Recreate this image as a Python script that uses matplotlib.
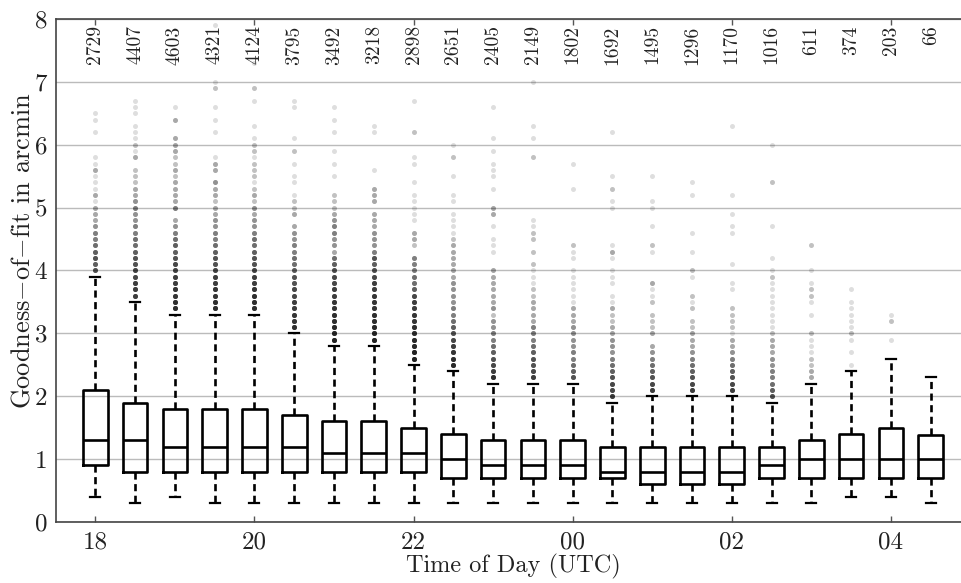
import numpy as np
import matplotlib.pyplot as plt

plt.rcParams['font.family'] = 'cmr10'
plt.rcParams['mathtext.fontset'] = 'cm'
plt.rcParams['axes.unicode_minus'] = False

# one box per half hour, 18:00 .. 04:30 UTC
hour_labels = ['18', '20', '22', '00', '02', '04']
n_obs = [2729, 4407, 4603, 4321, 4124, 3795, 3492, 3218, 2898, 2651, 2405,
         2149, 1802, 1692, 1495, 1296, 1170, 1016, 611, 374, 203, 66]

q1 = [0.9, 0.8, 0.8, 0.8, 0.8, 0.8, 0.8, 0.8, 0.8, 0.7, 0.7,
      0.7, 0.7, 0.7, 0.6, 0.6, 0.6, 0.7, 0.7, 0.7, 0.7, 0.7]
med = [1.3, 1.3, 1.2, 1.2, 1.2, 1.2, 1.1, 1.1, 1.1, 1.0, 0.9,
       0.9, 0.9, 0.8, 0.8, 0.8, 0.8, 0.9, 1.0, 1.0, 1.0, 1.0]
q3 = [2.1, 1.9, 1.8, 1.8, 1.8, 1.7, 1.6, 1.6, 1.5, 1.4, 1.3,
      1.3, 1.3, 1.2, 1.2, 1.2, 1.2, 1.2, 1.3, 1.4, 1.5, 1.38]
whislo = [0.4, 0.3, 0.4, 0.3, 0.3, 0.3, 0.3, 0.3, 0.3, 0.3, 0.3,
          0.3, 0.3, 0.3, 0.3, 0.3, 0.3, 0.3, 0.3, 0.4, 0.4, 0.3]
whishi = [3.9, 3.5, 3.3, 3.3, 3.3, 3.0, 2.8, 2.8, 2.5, 2.4, 2.2,
          2.2, 2.2, 1.9, 2.0, 2.0, 2.0, 1.9, 2.2, 2.4, 2.6, 2.3]

# outliers: number of fits per 0.1 arcmin step, starting one step above the upper whisker
fly_counts = [
    [8, 7, 8, 7, 6, 5, 5, 4, 3, 3, 3, 1, 3, 1, 1, 1, 3, 1, 1],
    [10, 10, 10, 9, 9, 8, 8, 7, 6, 6, 5, 5, 4, 4, 5, 4, 3, 3, 2, 2, 2, 0, 3, 1, 2, 1, 1, 1],
    [12, 12, 11, 11, 10, 10, 9, 9, 8, 7, 7, 6, 5, 4, 3, 0, 5, 3, 3, 3, 3, 2, 3, 2, 2, 3, 3, 3],
    [12, 12, 11, 11, 10, 10, 9, 8, 8, 7, 6, 5, 5, 4, 4, 3, 3, 2, 3, 3, 4, 0, 3, 3, 1],
    [12, 12, 12, 11, 10, 10, 9, 8, 8, 7, 6, 6, 5, 4, 4, 3, 4, 2, 3, 2, 1, 2, 2, 2, 1, 2, 2, 1],
    [12, 11, 11, 10, 10, 9, 9, 8, 8, 7, 6, 6, 5, 5, 4, 4, 3, 0, 3, 2, 2, 1],
    [14, 13, 13, 12, 12, 11, 11, 10, 10, 9, 9, 8, 7, 6, 3, 4, 4, 5, 5, 4, 3, 2, 2, 2],
    [14, 13, 13, 12, 12, 11, 11, 11, 10, 10, 9, 8, 7, 8, 5, 4, 4, 4, 3, 3, 3, 0, 3, 3, 3],
    [14, 14, 13, 13, 12, 12, 11, 11, 10, 10, 9, 7, 6, 6, 5, 5, 5, 0, 2, 3, 3, 0, 1, 1, 1, 1, 1],
    [13, 12, 11, 10, 9, 8, 7, 6, 5, 5, 4, 4, 4, 4, 3, 3, 3, 3, 3, 3, 2, 1, 1, 1, 1, 0, 1, 1],
    [12, 10, 9, 8, 7, 6, 5, 5, 4, 4, 2, 4, 3, 3, 3, 3, 3, 3, 0, 0, 1, 1, 1, 0, 1, 0, 3, 3],
    [10, 9, 8, 8, 7, 6, 5, 5, 5, 3, 3, 3, 3, 2, 2, 1, 1, 1, 2, 0, 2, 0, 2, 2, 1, 1],
    [8, 7, 6, 5, 5, 4, 4, 4, 4, 3, 3, 3, 1, 1, 1, 1, 1, 1, 0, 1, 1, 2],
    [10, 9, 9, 8, 7, 6, 5, 4, 4, 4, 3, 3, 2, 2, 3, 1, 1, 0, 1, 1, 1, 0, 1, 3, 1],
    [10, 9, 8, 7, 6, 5, 4, 3, 0, 3, 2, 2, 2, 0, 2, 1, 1, 3],
    [10, 9, 8, 7, 6, 5, 4, 3, 3, 3, 2, 2, 0, 2, 1, 2],
    [10, 9, 8, 7, 6, 5, 4, 3, 3, 1, 2, 2, 2, 2],
    [8, 7, 6, 5, 5, 4, 4, 3, 3, 3, 2, 1, 1, 1, 1, 1, 1, 1, 1, 2, 1],
    [3, 3, 2, 2, 1, 1, 1, 2, 0, 0, 1, 0, 1, 2, 2, 1],
    [1, 0, 1, 0, 1, 2, 1, 1, 1, 1, 1, 0, 1],
    [],
    [],
]
# isolated outliers further up
fly_far = [
    [6.2, 6.4, 6.5],
    [6.5, 6.6, 6.7],
    [6.4, 6.4, 6.4, 6.6],
    [6.2, 6.4, 6.6, 6.9, 6.9, 7.0, 7.9],
    [6.3, 6.7, 6.9, 6.9, 7.3],
    [5.4, 5.5, 5.7, 5.9, 5.9, 6.1, 6.6, 6.7],
    [5.5, 5.7, 5.9, 6.2, 6.4, 6.6],
    [5.6, 6.2, 6.3],
    [5.4, 5.7, 5.8, 6.2, 6.2, 6.7],
    [5.5, 5.8, 5.8, 6.0],
    [5.3, 5.5, 5.6, 5.7, 5.9, 6.1, 6.6],
    [5.8, 5.8, 6.1, 6.3, 7.0],
    [5.3, 5.7],
    [5.0, 5.1, 5.3, 5.3, 5.5, 6.2],
    [4.3, 4.4, 4.4, 4.7, 5.0, 5.1, 5.5],
    [3.9, 4.0, 4.0, 4.3, 4.6, 5.2, 5.4],
    [3.7, 3.8, 4.1, 4.6, 4.7, 4.9, 5.2, 6.3],
    [4.2, 4.7, 5.4, 5.4, 6.0],
    [4.0, 4.4, 4.4],
    [],
    [2.9, 3.2, 3.2, 3.3],
    [],
]

positions = np.arange(1, len(n_obs) + 1)

stats = []
for i in range(len(n_obs)):
    c = fly_counts[i]
    levels = whishi[i] + 0.1 * np.arange(1, len(c) + 1)
    fl = np.concatenate([np.repeat(levels, c), np.array(fly_far[i], dtype=float)])
    stats.append(dict(med=med[i], q1=q1[i], q3=q3[i],
                      whislo=whislo[i], whishi=whishi[i], fliers=fl))

fig = plt.figure(figsize=(9.62, 5.83), dpi=100)
ax = fig.add_axes([55.5 / 962, 61 / 583, 915 / 962, 503 / 583])

ax.bxp(stats, positions=positions, widths=0.62, capwidths=0.25,
       boxprops=dict(color='k', linewidth=1.9),
       medianprops=dict(color='k', linewidth=1.9),
       whiskerprops=dict(color='k', linewidth=1.9, linestyle=(0, (2.7, 1.7))),
       capprops=dict(color='k', linewidth=1.6),
       flierprops=dict(marker='o', markersize=3.6, markerfacecolor='k',
                       markeredgecolor='none', alpha=0.13),
       manage_ticks=False)

for p, n in zip(positions, n_obs):
    ax.text(p, 7.9, str(n), rotation=90, ha='center', va='top',
            fontsize=14, color='#222222')

ax.set_xlim(0, 23)
ax.set_ylim(0, 8)
ax.set_xticks(positions[::4])
ax.set_xticklabels(hour_labels)
ax.set_yticks(range(9))
ax.set_yticklabels([str(v) for v in range(9)])
ax.tick_params(axis='x', direction='in', top=True, length=4, width=1,
               color='#555555', labelsize=18, labelcolor='#222222', pad=7)
ax.tick_params(axis='y', direction='in', length=0, labelsize=18,
               labelcolor='#222222', pad=6)

ax.yaxis.grid(True, color='#bbbbbb', linewidth=1)
ax.set_axisbelow(True)
for side in ['left', 'bottom', 'top', 'right']:
    ax.spines[side].set_color('#444444')
    ax.spines[side].set_linewidth(1.2)

ax.set_xlabel('Time of Day (UTC)', fontsize=17.5, color='#222222', labelpad=0)
ax.set_ylabel(r'Goodness$-$of$-$fit in arcmin', fontsize=19, color='#222222')
ax.yaxis.set_label_coords(-0.023, 0.54)

fig.savefig('out.png', dpi=100)
